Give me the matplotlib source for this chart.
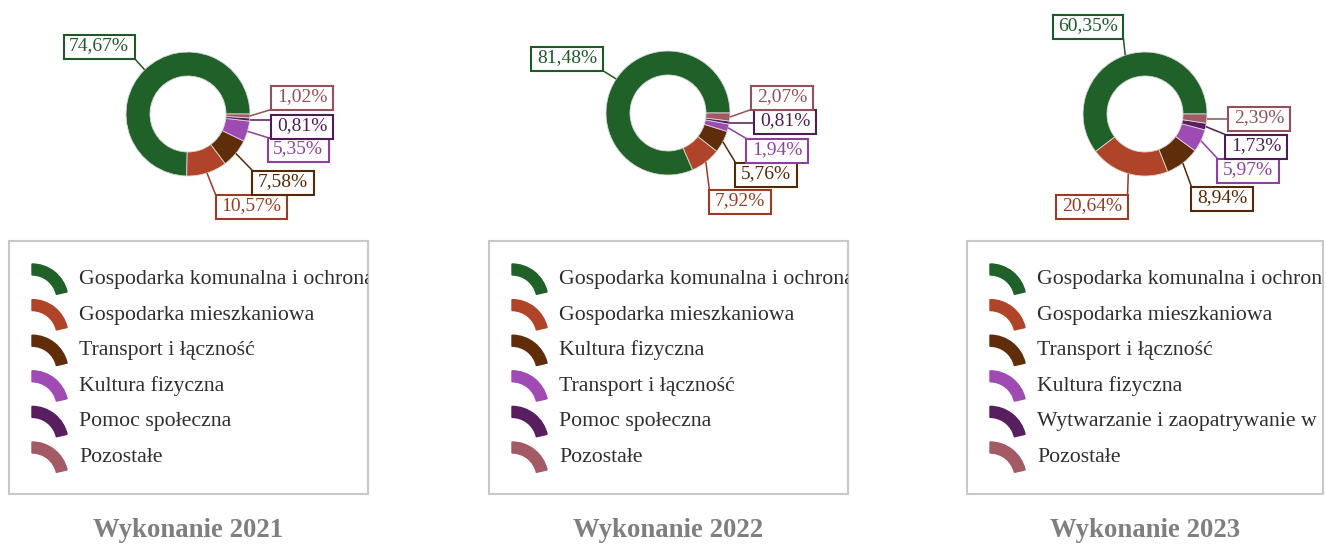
import numpy as np
import matplotlib
matplotlib.use("Agg")
import matplotlib.pyplot as plt
from matplotlib.patches import Wedge, Rectangle

W, H = 1326, 545

# data
years = ["2021", "2022", "2023"]

labels_2021 = ["Gospodarka komunalna i ochrona środowiska", "Gospodarka mieszkaniowa",
               "Transport i łączność", "Kultura fizyczna", "Pomoc społeczna", "Pozostałe"]
values_2021 = [74.67, 10.57, 7.58, 5.35, 0.81, 1.02]

labels_2022 = ["Gospodarka komunalna i ochrona środowiska", "Gospodarka mieszkaniowa",
               "Kultura fizyczna", "Transport i łączność", "Pomoc społeczna", "Pozostałe"]
values_2022 = [81.48, 7.92, 5.76, 1.94, 0.81, 2.07]

labels_2023 = ["Gospodarka komunalna i ochrona środowiska", "Gospodarka mieszkaniowa",
               "Transport i łączność", "Kultura fizyczna",
               "Wytwarzanie i zaopatrywanie w energię elektryczną, gaz i wodę", "Pozostałe"]
values_2023 = [60.35, 20.64, 8.94, 5.97, 1.73, 2.39]

all_labels = [labels_2021, labels_2022, labels_2023]
all_values = [values_2021, values_2022, values_2023]

colors = ["#1f6128", "#af4428", "#602d0a", "#a04bb4", "#581e60", "#a45a64"]
box_colors = ["#1e5a26", "#9c3b24", "#552808", "#8f3f9f", "#4e1b56", "#93505a"]

# layout in image pixels (y from top)
centers = [(188, 114), (668, 113), (1145, 114)]
label_pos = [
    [(99, 46), (251, 206), (283, 182), (298, 149), (302, 126), (302, 97)],
    [(567, 58), (740, 201), (766, 174), (777, 150), (785, 121), (782, 97)],
    [(1088, 26), (1092, 206), (1222, 198), (1248, 170), (1256, 146), (1259, 118)],
]
legend_left = [9, 489, 967]
legend_width = [359, 359, 356]
legend_top, legend_bottom = 241, 494

serif = "Liberation Serif"


def up(y):
    return H - y


fig = plt.figure(figsize=(W / 100, H / 100), dpi=100)
ax = fig.add_axes([0, 0, 1, 1])

all_wedges = []
for i in range(3):
    cx, cy = centers[i]
    wedges, _ = ax.pie(all_values[i], colors=colors, radius=62, center=(cx, up(cy)),
                       startangle=0, counterclock=True, frame=True,
                       wedgeprops=dict(width=24, edgecolor="#d8d8d8", linewidth=0.6))
    all_wedges.append(wedges)

ax.set_xlim(0, W)
ax.set_ylim(0, H)
ax.set_aspect("equal")
ax.axis("off")

renderer = fig.canvas.get_renderer()
inv = ax.transData.inverted()

# percentage labels with boxes and leader lines
for i in range(3):
    for j, w in enumerate(all_wedges[i]):
        ang = np.deg2rad((w.theta1 + w.theta2) / 2)
        px = w.center[0] + w.r * np.cos(ang)
        py = w.center[1] + w.r * np.sin(ang)
        tx, ty = label_pos[i][j]
        txt = f"{all_values[i][j]:.2f}%".replace(".", ",")
        t = ax.text(tx, up(ty), txt, ha="center", va="center", fontsize=14,
                    color=box_colors[j], family=serif, zorder=6)
        bb = t.get_window_extent(renderer).transformed(inv)
        x0, x1 = bb.x0 - 5.5, bb.x1 + 5.5
        y0, y1 = bb.y0 - 4, bb.y1 + 3
        ax.add_patch(Rectangle((x0, y0), x1 - x0, y1 - y0, facecolor="white",
                               edgecolor=box_colors[j], lw=1.5, zorder=5))
        qx = min(max(px, x0), x1)
        qy = min(max(py, y0), y1)
        ax.plot([px, qx], [py, qy], color=box_colors[j], lw=1.1, zorder=4,
                solid_capstyle="butt")

# legends
for i in range(3):
    L = legend_left[i]
    frame = Rectangle((L, up(legend_bottom)), legend_width[i], legend_bottom - legend_top,
                      fill=False, edgecolor="#c8c8c8", lw=1.5, zorder=2)
    ax.add_patch(frame)
    for k, lab in enumerate(all_labels[i]):
        yc = 278 + k * 35.6
        ax.add_patch(Wedge((L + 23, up(yc + 22)), 36, 13, 90, width=11,
                           color=colors[k], zorder=3))
        t = ax.text(L + 70, up(yc + 6), lab, ha="left", va="baseline", fontsize=15.7,
                    color="#2e2e2e", family=serif, zorder=3, clip_on=True)
        t.set_clip_path(frame)

# titles
for i in range(3):
    ax.text(centers[i][0], up(537), f"Wykonanie {years[i]}", ha="center", va="baseline",
            fontsize=19.3, fontweight="bold", color="#7f7f7f", family=serif)

fig.savefig("out.png", dpi=100)
